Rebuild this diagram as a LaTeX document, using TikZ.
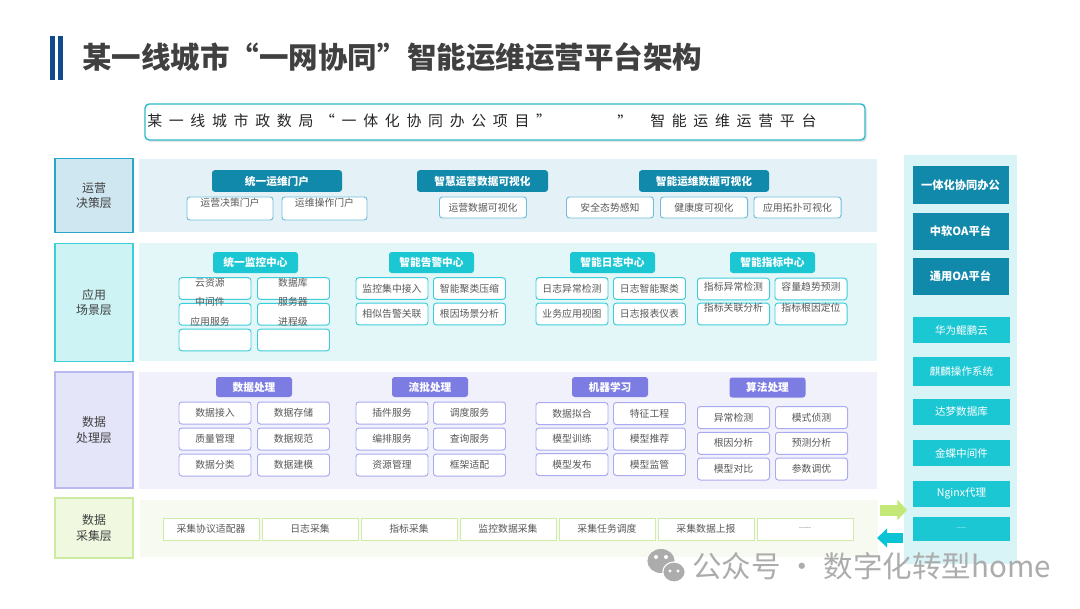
\documentclass[tikz,border=0pt]{standalone}
\usepackage{fontspec}
\setmainfont{Noto Sans CJK SC}
\newfontfamily\cjkwide[LetterSpace=45]{Noto Sans CJK SC}
\usepackage{tikz}
\usetikzlibrary{arrows.meta,positioning,shadows}
\definecolor{opNavy}{RGB}{16,74,140}
\definecolor{opText}{RGB}{64,64,64}
\definecolor{opGray}{RGB}{88,88,88}
\definecolor{opDark}{RGB}{16,137,170}
\definecolor{opCyan}{RGB}{28,199,212}
\definecolor{opPurple}{RGB}{124,124,226}
\definecolor{banLine}{RGB}{45,185,200}
\definecolor{decLbl}{RGB}{207,231,241}
\definecolor{decEdge}{RGB}{40,165,205}
\definecolor{decPane}{RGB}{228,242,247}
\definecolor{decBox}{RGB}{112,190,215}
\definecolor{appLbl}{RGB}{205,243,245}
\definecolor{appEdge}{RGB}{60,205,215}
\definecolor{appPane}{RGB}{227,247,249}
\definecolor{appBox}{RGB}{60,205,218}
\definecolor{procLbl}{RGB}{229,229,250}
\definecolor{procEdge}{RGB}{185,185,240}
\definecolor{procPane}{RGB}{241,241,252}
\definecolor{procBox}{RGB}{170,170,240}
\definecolor{collLbl}{RGB}{240,248,224}
\definecolor{collEdge}{RGB}{205,235,160}
\definecolor{collPane}{RGB}{246,250,240}
\definecolor{collBox}{RGB}{208,234,170}
\definecolor{sideBg}{RGB}{216,244,246}
\definecolor{arrGreen}{RGB}{195,232,120}
\definecolor{arrCyan}{RGB}{10,195,212}
\definecolor{wmGray}{RGB}{172,172,172}

\begin{document}
\begin{tikzpicture}[
  x=0.25mm, y=-0.25mm,
  font=\fontsize{7}{8.5}\selectfont,
  lyr/.style={draw=#1Edge, fill=#1Lbl, line width=1pt, minimum width=19.5mm, inner sep=0pt, align=center, text=opText, font=\fontsize{8.5}{11}\selectfont},
  pane/.style={fill=#1Pane, minimum width=184.5mm, inner sep=0pt},
  hdr/.style={fill=#1, rounded corners=2pt, inner sep=0pt, minimum height=5.4mm, text=white, font=\bfseries\fontsize{7.6}{9}\selectfont},
  itm/.style={draw=#1, fill=white, rounded corners=2pt, line width=0.7pt, inner sep=0pt, minimum width=18mm, minimum height=5.4mm, text=opGray},
  itxt/.style={inner sep=0pt, text=opGray},
  side/.style={fill=#1, inner sep=0pt, minimum width=24mm, text=white}
]
\useasboundingbox (0,0) rectangle (1080,608);

%============ TITLE ============
\fill[opNavy] (50,36) rectangle (55,80);
\fill[opNavy] (58,36) rectangle (63,80);
\node[anchor=west, inner sep=0pt, text=opText, font=\bfseries\fontsize{21}{24}\selectfont] (title) at (82,57) {某一线城市“一网协同”智能运维运营平台架构};
% banner
\node[draw=banLine, line width=1pt, rounded corners=3pt, fill=white, minimum width=180mm, minimum height=9mm,
  drop shadow={opacity=0.2, shadow xshift=0.5mm, shadow yshift=-0.5mm}] (banner) at (505,122) {};
\node[anchor=west, inner sep=0pt, text=black!85, font=\cjkwide\fontsize{10.6}{12}\selectfont] (banL) at (147,121) {某一线城市政数局“一体化协同办公项目”};
\node[anchor=west, inner sep=0pt, text=black!85, font=\cjkwide\fontsize{10.6}{12}\selectfont] (banM) at (617,121) {”};
\node[anchor=west, inner sep=0pt, text=black!85, font=\cjkwide\fontsize{10.6}{12}\selectfont] (banR) at (650,121) {智能运维运营平台};

%============ DECISION LAYER ============
\node[lyr=dec, minimum height=18.5mm] (l1) at (94,195.5) {运营\\决策层};
\node[pane=dec, minimum height=18.25mm] (p1) at (508,195.5) {};
\node[hdr=opDark, minimum width=32.5mm] (h11) at (277,181) {统一运维门户};
\node[hdr=opDark, minimum width=32.75mm] (h12) at (482.5,181) {智慧运营数据可视化};
\node[hdr=opDark, minimum width=32.5mm] (h13) at (704,181) {智能运维数据可视化};
% portal boxes, text sits on the top rim
\node[itm=decBox, minimum width=21.5mm, minimum height=5.75mm] (b11) at (230,208.5) {};
\node[itxt] at (230,202.5) {运营决策门户};
\node[itm=decBox, minimum width=21.25mm, minimum height=5.75mm] (b12) at (324.5,208.5) {};
\node[itxt] at (324.5,202.5) {运维操作门户};
\foreach \t/\x [count=\i] in {运营数据可视化/483, 安全态势感知/610, 健康度可视化/704, 应用拓扑可视化/797.5}
  \node[itm=decBox, minimum width=21.75mm, minimum height=5.25mm] (v\i) at (\x,207.5) {\t};

%============ APPLICATION LAYER ============
\node[lyr=app, minimum height=29.5mm] (l2) at (94,302.5) {应用\\场景层};
\node[pane=app, minimum height=29.5mm] (p2) at (508,302) {};
\node[hdr=opCyan, minimum width=21.25mm, minimum height=5.25mm] (h21) at (255.5,262.5) {统一监控中心};
\node[hdr=opCyan, minimum width=21.25mm, minimum height=5.25mm] (h22) at (431.5,262.5) {智能告警中心};
\node[hdr=opCyan, minimum width=21.25mm, minimum height=5.25mm] (h23) at (612.5,262.5) {智能日志中心};
\node[hdr=opCyan, minimum width=21.25mm, minimum height=5.25mm] (h24) at (772.5,262.5) {智能指标中心};
% monitoring grid
\foreach \r in {0,1,2} {
  \foreach \c in {0,1} {
    \node[itm=appBox] (mo\c\r) at ({215+\c*78.5},{288.5+\r*25.75}) {};
  }
}
\node[itxt] at (210,283) {云资源};
\node[itxt] at (293,283) {数据库};
\node[itxt] at (210,302) {中间件};
\node[itxt] at (293,302) {服务器};
\node[itxt] at (210,322) {应用服务};
\node[itxt] at (293,322) {进程级};
% alarm + log grids
\foreach \t/\c/\r in {监控集中接入/0/0, 智能聚类压缩/1/0, 相似告警关联/0/1, 根因场景分析/1/1}
  \node[itm=appBox] (al\c\r) at ({392+\c*77.5},{288.5+\r*25.5}) {\t};
\foreach \t/\c/\r in {日志异常检测/0/0, 日志智能聚类/1/0, 业务应用视图/0/1, 日志报表仪表/1/1}
  \node[itm=appBox] (lg\c\r) at ({572+\c*77.5},{288.5+\r*25.5}) {\t};
% metric grid
\foreach \t/\c/\r in {指标异常检测/0/0, 容量趋势预测/1/0, 指标关联分析/0/1, 指标根因定位/1/1} {
  \node[itm=appBox] (mt\c\r) at ({733.5+\c*77.5},{289+\r*25}) {};
  \node[itxt] at ({733.5+\c*77.5},{287+\r*21}) {\t};
}

%============ PROCESSING LAYER ============
\node[lyr=proc, minimum height=29mm] (l3) at (94,430) {数据\\处理层};
\node[pane=proc, minimum height=29.25mm] (p3) at (508,430.5) {};
\node[hdr=opPurple, minimum width=19mm, minimum height=5mm] (h31) at (254,387) {数据处理};
\node[hdr=opPurple, minimum width=19mm, minimum height=5mm] (h32) at (430,387) {流批处理};
\node[hdr=opPurple, minimum width=19mm, minimum height=5mm] (h33) at (610,387) {机器学习};
\node[hdr=opPurple, minimum width=19mm, minimum height=5mm] (h34) at (767.5,387.5) {算法处理};
\foreach \t/\c/\r in {数据接入/0/0, 数据存储/1/0, 质量管理/0/1, 数据规范/1/1, 数据分类/0/2, 数据建模/1/2}
  \node[itm=procBox, minimum height=5.5mm] (dp\c\r) at ({215+\c*78.5},{413+\r*26}) {\t};
\foreach \t/\c/\r in {插件服务/0/0, 调度服务/1/0, 编排服务/0/1, 查询服务/1/1, 资源管理/0/2, 框架适配/1/2}
  \node[itm=procBox, minimum height=5.5mm] (sb\c\r) at ({392+\c*77.5},{413+\r*26}) {\t};
\foreach \t/\c/\r in {数据拟合/0/0, 特征工程/1/0, 模型训练/0/1, 模型推荐/1/1, 模型发布/0/2, 模型监管/1/2}
  \node[itm=procBox, minimum height=5.5mm] (ml\c\r) at ({572+\c*77.5},{413.5+\r*25.5}) {\t};
\foreach \t/\c/\r in {异常检测/0/0, 模式侦测/1/0, 根因分析/0/1, 预测分析/1/1, 模型对比/0/2, 参数调优/1/2}
  \node[itm=procBox, minimum height=5.5mm] (ag\c\r) at ({733.5+\c*78},{417.5+\r*25.75}) {\t};

%============ COLLECTION LAYER ============
\node[lyr=coll, minimum height=15mm] (l4) at (94,528) {数据\\采集层};
\node[pane=coll, minimum height=14.25mm] (p4) at (509,528.5) {};
\foreach \t [count=\i from 0] in {采集协议适配器, 日志采集, 指标采集, 监控数据采集, 采集任务调度, 采集数据上报, {\fontsize{4}{5}\selectfont -{}-{}-{}-{}-{}-}}
  \node[itm=collBox, rounded corners=0pt, minimum width=24mm, minimum height=5.5mm] (cj\i) at ({211+\i*99},529) {\t};

%============ SIDE STACK ============
\node[fill=sideBg, inner sep=0pt, minimum width=28.25mm, minimum height=102.25mm] (rc) at (960.5,359.5) {};
\foreach \t/\y [count=\i] in {一体化协同办公/185, 中软OA平台/231.5, 通用OA平台/276.5}
  \node[side=opDark, minimum height=9.4mm, font=\bfseries\fontsize{8}{9}\selectfont] (oa\i) at (960.5,\y) {\t};
\foreach \t/\y/\h [count=\i] in {华为鲲鹏云/330/6.5mm, 麒麟操作系统/371.5/7.2mm, 达梦数据库/412/6.5mm, 金蝶中间件/453/6.7mm, Nginx代理/493.5/6.5mm, {\fontsize{4}{5}\selectfont -{}-{}-{}-{}-}/529/6mm}
  \node[side=opCyan, minimum width=24.25mm, minimum height=\h, font=\fontsize{7.5}{9}\selectfont] (xc\i) at (961.5,\y) {\t};
% exchange arrows
\coordinate (gIn) at (880,510);
\coordinate (gOut) at (907,510);
\coordinate (cIn) at (903,538);
\coordinate (cOut) at (877,538);
\draw[arrGreen, line width=2.75mm, -{Triangle[length=2.4mm, width=5mm]}] (gIn) -- (gOut);
\draw[arrCyan, line width=2.5mm, -{Triangle[length=2.5mm, width=4.6mm]}] (cIn) -- (cOut);

%============ WATERMARK ============
\fill[wmGray] (661,561) ellipse [x radius=3.4mm, y radius=3mm];
\filldraw[fill=wmGray, draw=white, line width=0.8pt] (674,572) ellipse [x radius=2.8mm, y radius=2.5mm];
\foreach \x/\y/\s in {656/557/0.5mm, 666/557/0.5mm, 670/571/0.4mm, 678/571/0.4mm}
  \fill[white] (\x,\y) circle (\s);
\node[anchor=west, inner sep=0pt, text=wmGray, font=\fontsize{21}{24}\selectfont] (wm) at (692,566) {公众号 · 数字化转型home};
\end{tikzpicture}
\end{document}
